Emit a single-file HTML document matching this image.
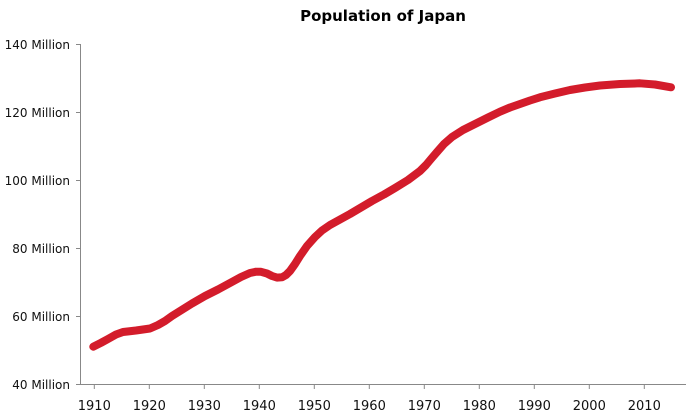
<!DOCTYPE html>
<html><head><meta charset="utf-8"><style>
body{margin:0;background:#fff;}
svg{display:block;font-family:"DejaVu Sans","Liberation Sans",sans-serif;}
</style></head><body>
<svg width="700" height="417" viewBox="0 0 700 417" xmlns="http://www.w3.org/2000/svg">
<text x="383" y="21" text-anchor="middle" font-size="15" font-weight="bold" fill="#000">Population of Japan</text>
<g stroke="#888" stroke-width="1" fill="none">
<line x1="80.5" y1="44" x2="80.5" y2="385"/>
<line x1="80" y1="384.5" x2="686" y2="384.5"/>
<line x1="76" y1="44.5" x2="80" y2="44.5"/>
<line x1="76" y1="112.5" x2="80" y2="112.5"/>
<line x1="76" y1="180.5" x2="80" y2="180.5"/>
<line x1="76" y1="248.5" x2="80" y2="248.5"/>
<line x1="76" y1="316.5" x2="80" y2="316.5"/>
<line x1="76" y1="384.5" x2="80" y2="384.5"/>
</g>
<g font-size="12" fill="#111" text-anchor="end">
<text x="70" y="49">140 Million</text>
<text x="70" y="117">120 Million</text>
<text x="70" y="185">100 Million</text>
<text x="70" y="253">80 Million</text>
<text x="70" y="321">60 Million</text>
<text x="70" y="389">40 Million</text>
</g>
<g stroke="#888" stroke-width="1">
<line x1="94.3" y1="385" x2="94.3" y2="389"/><line x1="149.3" y1="385" x2="149.3" y2="389"/>
<line x1="204.3" y1="385" x2="204.3" y2="389"/><line x1="259.3" y1="385" x2="259.3" y2="389"/>
<line x1="314.3" y1="385" x2="314.3" y2="389"/><line x1="369.3" y1="385" x2="369.3" y2="389"/>
<line x1="424.3" y1="385" x2="424.3" y2="389"/><line x1="479.3" y1="385" x2="479.3" y2="389"/>
<line x1="534.3" y1="385" x2="534.3" y2="389"/><line x1="589.3" y1="385" x2="589.3" y2="389"/>
<line x1="644.3" y1="385" x2="644.3" y2="389"/>
</g>
<g font-size="13" fill="#111" text-anchor="middle">
<text x="94.3" y="410">1910</text><text x="149.3" y="410">1920</text><text x="204.3" y="410">1930</text>
<text x="259.3" y="410">1940</text><text x="314.3" y="410">1950</text><text x="369.3" y="410">1960</text>
<text x="424.3" y="410">1970</text><text x="479.3" y="410">1980</text><text x="534.3" y="410">1990</text>
<text x="589.3" y="410">2000</text><text x="644.3" y="410">2010</text>
</g>
<polyline fill="none" stroke="#d31c2b" stroke-width="8" stroke-linecap="round" stroke-linejoin="round"
points="93.3,346.7 101,342.8 108,339 116,334.5 123,332 136,330.5 150,328.5 158,325 165,321 172,316 180,311 192,303.5 205,296 218,289.5 230,283 241,277 250,273 256,271.7 261,271.8 267,273.5 272,276 277,277.6 282,277.3 286,275 290,271 295,264 300,256 307,246 315,237 322,230.5 330,225 340,219.5 350,214 361,207.5 372,201 384,194.5 395,188 408,180 420,171 426,165 431,159 437,152 444,144 452,137 463,130 475,124 488,117.5 500,111.7 510,107.5 520,104 530,100.5 540,97.3 555,93.5 570,90 585,87.5 600,85.5 620,84 640,83.3 655,84.5 671,87.3"/>
</svg>
</body></html>
